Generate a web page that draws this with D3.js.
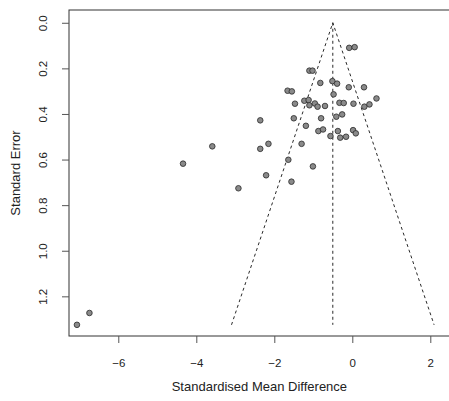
<!DOCTYPE html>
<html>
<head>
<meta charset="utf-8">
<script src="https://d3js.org/d3.v7.min.js"></script>
<style>
    body { margin: 0; background: white; }
    svg { display: block; }
    text { font-family: "Liberation Sans", Arial, sans-serif; fill: #222; }
</style>
</head>
<body>
<svg id="chart"></svg>
<script>
    // study effects (SMD) and their standard errors
    let smd = [-0.08, 0.06, -1.10, -1.02, -0.82, -0.51, -0.39, -0.09, 0.30, -1.66,
               -1.55, -0.48, 0.62, -1.47, -1.23, -1.12, -1.10, -0.96, -0.89, -0.70,
               -0.33, -0.22, 0.03, 0.31, 0.44, -1.50, -0.80, -0.41, -0.26, -1.19,
               -0.87, -0.75, -0.56, -0.37, -0.31, -0.16, 0.02, 0.09, -2.36, -2.15,
               -2.36, -1.30, -1.64, -1.01, -2.21, -1.56, -3.59, -4.34, -2.92, -6.74,
               -7.06]
    let se = [0.110, 0.107, 0.210, 0.210, 0.264, 0.256, 0.267, 0.283, 0.283, 0.298,
              0.301, 0.314, 0.332, 0.355, 0.342, 0.339, 0.362, 0.354, 0.368, 0.365,
              0.351, 0.352, 0.355, 0.368, 0.358, 0.419, 0.419, 0.412, 0.402, 0.452,
              0.475, 0.468, 0.497, 0.475, 0.504, 0.500, 0.471, 0.485, 0.428, 0.531,
              0.553, 0.531, 0.601, 0.630, 0.669, 0.697, 0.542, 0.618, 0.726, 1.273,
              1.325]
    let pooled = -0.5
    let seMax = 1.325

    let xTicks = [-6, -4, -2, 0, 2]
    let yTicks = [0, 0.2, 0.4, 0.6, 0.8, 1.0, 1.2]

    let width = 449,
        height = 401

    let svg = d3.select("#chart")
        .attr("width", width)
        .attr("height", height)

    // plot region (the right edge runs just past the picture)
    let plotLeft = 69, plotTop = 10, plotBottom = 336, plotRight = 449.8

    let x = d3.scaleLinear().domain([-7.264, 2.5]).range([plotLeft, plotRight])
    let y = d3.scaleLinear().domain([-0.056, 1.374]).range([plotTop, plotBottom])

    // funnel: pseudo 95% limits around the pooled estimate
    let funnel = [[pooled - 1.96 * seMax, seMax], [pooled, 0], [pooled + 1.96 * seMax, seMax]]
    let line = d3.line().x(d => x(d[0])).y(d => y(d[1]))

    svg.append("path")
        .attr("d", line(funnel))
        .attr("fill", "none")
        .attr("stroke", "#111")
        .attr("stroke-width", 0.9)
        .attr("stroke-dasharray", "3,3")

    svg.append("line")
        .attr("x1", x(pooled)).attr("x2", x(pooled))
        .attr("y1", y(0)).attr("y2", y(seMax))
        .attr("stroke", "#111")
        .attr("stroke-width", 0.9)
        .attr("stroke-dasharray", "3,3")

    // studies
    svg.append("g").selectAll("circle")
        .data(d3.range(smd.length))
        .enter()
        .append("circle")
        .attr("cx", i => x(smd[i]))
        .attr("cy", i => y(se[i]))
        .attr("r", 2.8)
        .attr("fill", "#8a8a8a")
        .attr("stroke", "#2a2a2a")
        .attr("stroke-width", 0.8)

    // plot box
    svg.append("rect")
        .attr("x", plotLeft).attr("y", plotTop)
        .attr("width", plotRight - plotLeft).attr("height", plotBottom - plotTop)
        .attr("fill", "none")
        .attr("stroke", "#333")
        .attr("stroke-width", 1)

    // x axis
    let xAxis = svg.append("g")
        .attr("transform", "translate(0," + plotBottom + ")")
        .call(d3.axisBottom(x).tickValues(xTicks).tickSize(7).tickFormat(d3.format("d")))
    xAxis.select(".domain").remove()
    xAxis.selectAll("line").attr("stroke", "#555")
    xAxis.selectAll("text")
        .attr("y", 27).attr("dy", "0.35em")
        .style("font-size", "11.5px")
        .attr("fill", "#222")

    // y axis, labels turned like R's las=0
    let yAxis = svg.append("g")
        .attr("transform", "translate(" + plotLeft + ",0)")
        .call(d3.axisLeft(y).tickValues(yTicks).tickSize(7).tickFormat(d3.format(".1f")))
    yAxis.select(".domain").remove()
    yAxis.selectAll("line").attr("stroke", "#555")
    yAxis.selectAll("text")
        .attr("transform", "rotate(-90)")
        .attr("x", 0).attr("y", -26).attr("dy", "0.35em")
        .attr("text-anchor", "middle")
        .style("font-size", "11.5px")
        .attr("fill", "#222")

    svg.append("text")
        .attr("x", (plotLeft + plotRight) / 2)
        .attr("y", 391)
        .attr("text-anchor", "middle")
        .style("font-size", "13px")
        .text("Standardised Mean Difference")

    svg.append("text")
        .attr("transform", "translate(19.5," + (plotTop + plotBottom) / 2 + ") rotate(-90)")
        .attr("text-anchor", "middle")
        .style("font-size", "13px")
        .text("Standard Error")
</script>
</body>
</html>
